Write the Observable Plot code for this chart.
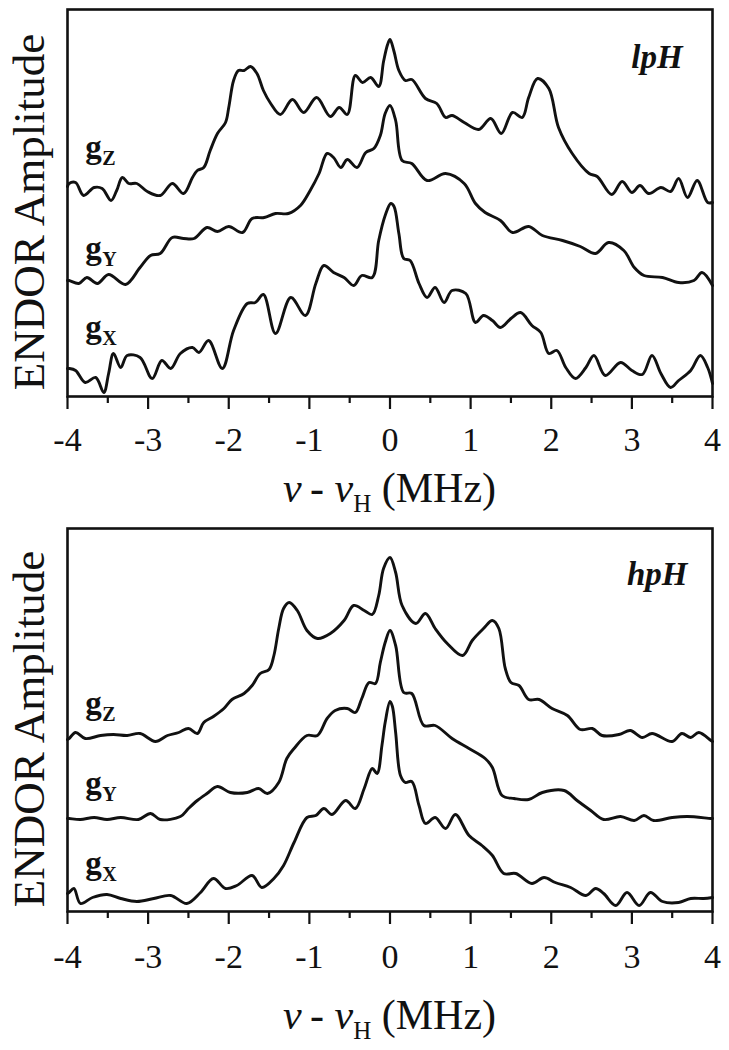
<!DOCTYPE html>
<html><head><meta charset="utf-8">
<script src="https://cdn.jsdelivr.net/npm/d3@7"></script>
<script src="https://cdn.jsdelivr.net/npm/@observablehq/plot@0.6"></script>
<style>body{margin:0;background:#fff}#chart svg{display:block}#chart svg text{font-family:"Liberation Serif","DejaVu Serif",serif !important}</style>
</head><body><div id="chart"></div>
<script>
// ---------- data (x in MHz, amplitude in arbitrary units, traces pre-offset) ----------
const majorTicks = [-4, -3, -2, -1, 0, 1, 2, 3, 4];
const minorTicks = [-3.5, -2.5, -1.5, -0.5, 0.5, 1.5, 2.5, 3.5];
const axisTitle = ["ν", "\u2009- ", "ν", "H", " (MHz)"];
const yLabel = "ENDOR Amplitude";

const lpH_gZ = [[-4.00,210],[-3.98,213],[-3.90,214],[-3.80,201],[-3.67,209],[-3.57,208],[-3.46,196],[-3.39,206],[-3.32,219],[-3.24,213],[-3.14,213],[-3.01,205],[-2.85,201],[-2.70,213],[-2.56,203],[-2.45,219],[-2.39,226],[-2.31,229],[-2.23,246],[-2.14,263],[-2.04,274],[-2.00,289],[-1.94,316],[-1.88,326],[-1.81,326],[-1.73,330],[-1.65,323],[-1.57,306],[-1.48,293],[-1.36,282],[-1.21,297],[-1.07,284],[-0.91,299],[-0.74,280],[-0.63,289],[-0.53,282],[-0.43,321],[-0.34,314],[-0.24,319],[-0.14,310],[-0.08,335],[-0.03,352],[0.00,357],[0.05,345],[0.11,326],[0.19,316],[0.27,317],[0.44,298],[0.58,293],[0.69,279],[0.77,281],[0.92,274],[1.10,267],[1.25,278],[1.38,263],[1.52,284],[1.64,279],[1.72,299],[1.83,318],[1.97,308],[2.09,269],[2.26,243],[2.47,223],[2.57,220],[2.75,202],[2.88,215],[3.00,204],[3.10,211],[3.21,203],[3.36,209],[3.48,205],[3.58,218],[3.69,199],[3.81,216],[3.94,194],[4.00,194]];
const lpH_gY = [[-4.00,116],[-3.98,116],[-3.86,113],[-3.76,119],[-3.63,113],[-3.49,122],[-3.28,112],[-3.10,129],[-2.97,141],[-2.85,143],[-2.70,159],[-2.56,158],[-2.43,158],[-2.27,169],[-2.14,165],[-2.00,170],[-1.83,164],[-1.71,178],[-1.56,179],[-1.42,183],[-1.26,183],[-1.11,191],[-0.99,206],[-0.88,223],[-0.78,243],[-0.70,239],[-0.61,229],[-0.53,237],[-0.41,229],[-0.30,244],[-0.20,248],[-0.12,261],[-0.06,283],[0.00,291],[0.07,276],[0.15,236],[0.27,233],[0.46,216],[0.69,223],[0.92,213],[1.06,193],[1.18,184],[1.37,176],[1.52,164],[1.72,170],[1.89,161],[2.14,156],[2.36,150],[2.55,143],[2.71,154],[2.90,146],[3.03,129],[3.15,121],[3.38,119],[3.58,114],[3.77,116],[3.87,124],[4.00,111]];
const lpH_gX = [[-4.00,28],[-3.98,28],[-3.90,26],[-3.78,14],[-3.65,19],[-3.55,4],[-3.49,23],[-3.43,43],[-3.34,29],[-3.26,41],[-3.10,39],[-2.95,18],[-2.83,36],[-2.72,28],[-2.60,43],[-2.45,49],[-2.37,44],[-2.25,56],[-2.08,28],[-1.94,66],[-1.77,93],[-1.67,94],[-1.57,102],[-1.42,63],[-1.23,99],[-1.05,81],[-0.92,113],[-0.82,131],[-0.70,124],[-0.57,119],[-0.45,111],[-0.35,121],[-0.22,119],[-0.14,156],[-0.06,181],[0.01,193],[0.05,190],[0.11,163],[0.17,138],[0.25,136],[0.36,113],[0.46,99],[0.56,109],[0.67,94],[0.77,106],[0.94,103],[1.06,74],[1.16,81],[1.27,76],[1.37,69],[1.50,78],[1.62,84],[1.76,71],[1.87,64],[1.97,43],[2.07,46],[2.18,29],[2.30,18],[2.43,29],[2.53,41],[2.67,21],[2.86,34],[3.00,26],[3.13,22],[3.25,41],[3.36,23],[3.48,9],[3.58,16],[3.73,26],[3.85,41],[3.94,29],[4.00,13]];

const hpH_gZ = [[-4.00,172],[-3.98,173],[-3.90,179],[-3.78,173],[-3.59,176],[-3.43,177],[-3.26,176],[-3.10,178],[-2.91,170],[-2.76,176],[-2.62,179],[-2.50,183],[-2.39,178],[-2.31,189],[-2.19,195],[-2.06,203],[-1.96,212],[-1.81,218],[-1.71,226],[-1.61,238],[-1.50,242],[-1.44,256],[-1.38,283],[-1.32,303],[-1.25,309],[-1.15,301],[-1.03,281],[-0.90,273],[-0.74,278],[-0.57,291],[-0.45,306],[-0.32,301],[-0.22,297],[-0.14,316],[-0.08,343],[0.00,354],[0.07,339],[0.15,306],[0.32,288],[0.44,298],[0.56,283],[0.71,268],[0.90,256],[1.02,271],[1.16,283],[1.27,291],[1.35,283],[1.43,243],[1.50,229],[1.60,226],[1.72,212],[1.85,212],[2.01,203],[2.20,196],[2.36,182],[2.51,183],[2.63,176],[2.84,177],[2.98,181],[3.13,174],[3.25,178],[3.50,170],[3.62,178],[3.73,174],[3.83,179],[3.98,171],[4.00,170]];
const hpH_gY = [[-4.00,93],[-3.98,93],[-3.84,92],[-3.67,94],[-3.51,92],[-3.34,94],[-3.12,92],[-2.97,98],[-2.85,92],[-2.60,95],[-2.50,103],[-2.39,111],[-2.27,118],[-2.14,125],[-1.98,119],[-1.77,119],[-1.63,123],[-1.52,118],[-1.38,129],[-1.28,153],[-1.19,163],[-1.03,176],[-0.90,176],[-0.78,193],[-0.68,201],[-0.53,203],[-0.43,199],[-0.35,213],[-0.26,229],[-0.18,228],[-0.12,249],[-0.06,269],[0.00,281],[0.07,266],[0.17,219],[0.27,218],[0.42,186],[0.56,186],[0.77,173],[0.98,163],[1.18,153],[1.27,144],[1.39,116],[1.54,113],[1.72,112],[1.89,119],[2.16,121],[2.32,111],[2.49,101],[2.65,92],[2.86,95],[3.03,91],[3.15,96],[3.27,91],[3.50,94],[3.69,95],[3.98,93],[4.00,93]];
const hpH_gX = [[-4.00,18],[-3.98,19],[-3.92,23],[-3.84,8],[-3.69,14],[-3.51,17],[-3.34,13],[-3.14,10],[-2.93,13],[-2.72,16],[-2.52,8],[-2.35,19],[-2.19,33],[-2.04,23],[-1.90,26],[-1.71,36],[-1.59,24],[-1.44,33],[-1.32,46],[-1.19,69],[-1.03,94],[-0.92,96],[-0.82,103],[-0.72,97],[-0.55,111],[-0.43,103],[-0.32,123],[-0.22,143],[-0.16,138],[-0.10,166],[-0.06,189],[0.00,210],[0.03,205],[0.07,179],[0.13,136],[0.19,129],[0.27,130],[0.36,106],[0.44,88],[0.56,94],[0.69,83],[0.81,97],[0.98,76],[1.14,66],[1.27,56],[1.41,38],[1.56,38],[1.76,28],[1.91,34],[2.05,29],[2.24,24],[2.43,16],[2.55,23],[2.65,18],[2.80,6],[2.94,19],[3.09,6],[3.23,19],[3.38,10],[3.58,9],[3.73,13],[3.89,13],[4.00,14]];

const subscripts = ["Z", "Y", "X"];
const lpH_labelY = [239, 138, 59];
const hpH_labelY = [198, 118, 38];
const labelX = -3.78;

const panels = [
  {tag: "lpH", tagX: 3.63, tagY: 329, traces: [lpH_gZ, lpH_gY, lpH_gX], labelY: lpH_labelY,
   height: 520, marginTop: 9, marginBottom: 124, yMax: 387, tickPadding: 17, titleOffset: 106},
  {tag: "hpH", tagX: 3.69, tagY: 327, traces: [hpH_gZ, hpH_gY, hpH_gX], labelY: hpH_labelY,
   height: 530, marginTop: 8, marginBottom: 139, yMax: 383, tickPadding: 19, titleOffset: 118}
];

const serif = "Liberation Serif, DejaVu Serif, serif";
const ink = "#111";

function makePanel(p) {
  const lines = p.traces.map((t, i) => t.map(([x, y]) => ({x, y, s: subscripts[i]}))).flat();
  const labs = subscripts.map((s, i) => ({x: labelX, y: p.labelY[i], s}));
  const plot = Plot.plot({
    width: 729, height: p.height,
    marginLeft: 67, marginRight: 17, marginTop: p.marginTop, marginBottom: p.marginBottom,
    style: {fontFamily: serif, color: ink, background: "#fff", overflow: "visible"},
    x: {domain: [-4, 4], axis: null},
    y: {domain: [0, p.yMax], axis: null},
    marks: [
      Plot.axisX({ticks: minorTicks, tickSize: 7, tickFormat: () => "", strokeWidth: 2.2}),
      Plot.axisX({ticks: majorTicks, tickSize: 13, tickPadding: p.tickPadding, tickFormat: d => String(d),
                  fontSize: 34, fontFamily: serif, strokeWidth: 2.2, fill: ink}),
      Plot.line(lines, {x: "x", y: "y", z: "s", curve: "catmull-rom", stroke: ink, strokeWidth: 2.9,
                        strokeLinejoin: "round", strokeLinecap: "round"}),
      Plot.text(labs, {x: "x", y: "y", text: () => "g", fontSize: 33, fontWeight: "bold", fontFamily: serif,
                       textAnchor: "start", lineAnchor: "bottom", fill: ink}),
      Plot.text(labs, {x: "x", y: "y", text: "s", fontSize: 20, fontWeight: "bold", fontFamily: serif,
                       textAnchor: "start", lineAnchor: "bottom", dx: 17, dy: 7, fill: ink}),
      Plot.text([p], {x: "tagX", y: "tagY", text: "tag", fontSize: 33, fontWeight: "bold", fontStyle: "italic",
                      fontFamily: serif, textAnchor: "end", lineAnchor: "bottom", fill: ink}),
      Plot.text([yLabel], {frameAnchor: "left", text: d => d, rotate: -90, textAnchor: "middle", fontFamily: serif,
                           lineAnchor: "bottom", dx: -24, dy: 9, fontSize: 45, fill: ink}),
      Plot.frame({stroke: ink, strokeWidth: 2.6})
    ]
  });
  const svg = d3.select(plot);
  const xs = plot.scale("x");
  const t = svg.append("text")
    .attr("x", xs.apply(0))
    .attr("y", p.height - p.marginBottom + p.titleOffset)
    .attr("text-anchor", "middle")
    .attr("font-family", serif)
    .attr("font-size", 42)
    .attr("fill", ink);
  t.append("tspan").attr("font-style", "italic").text(axisTitle[0]);
  t.append("tspan").text(axisTitle[1]);
  t.append("tspan").attr("font-style", "italic").text(axisTitle[2]);
  t.append("tspan").attr("font-size", 25).attr("dy", 10).text(axisTitle[3]);
  t.append("tspan").attr("dy", -10).text(axisTitle[4]);
  return plot;
}

const root = document.getElementById("chart");
panels.forEach(p => root.appendChild(makePanel(p)));
</script>
</body></html>
